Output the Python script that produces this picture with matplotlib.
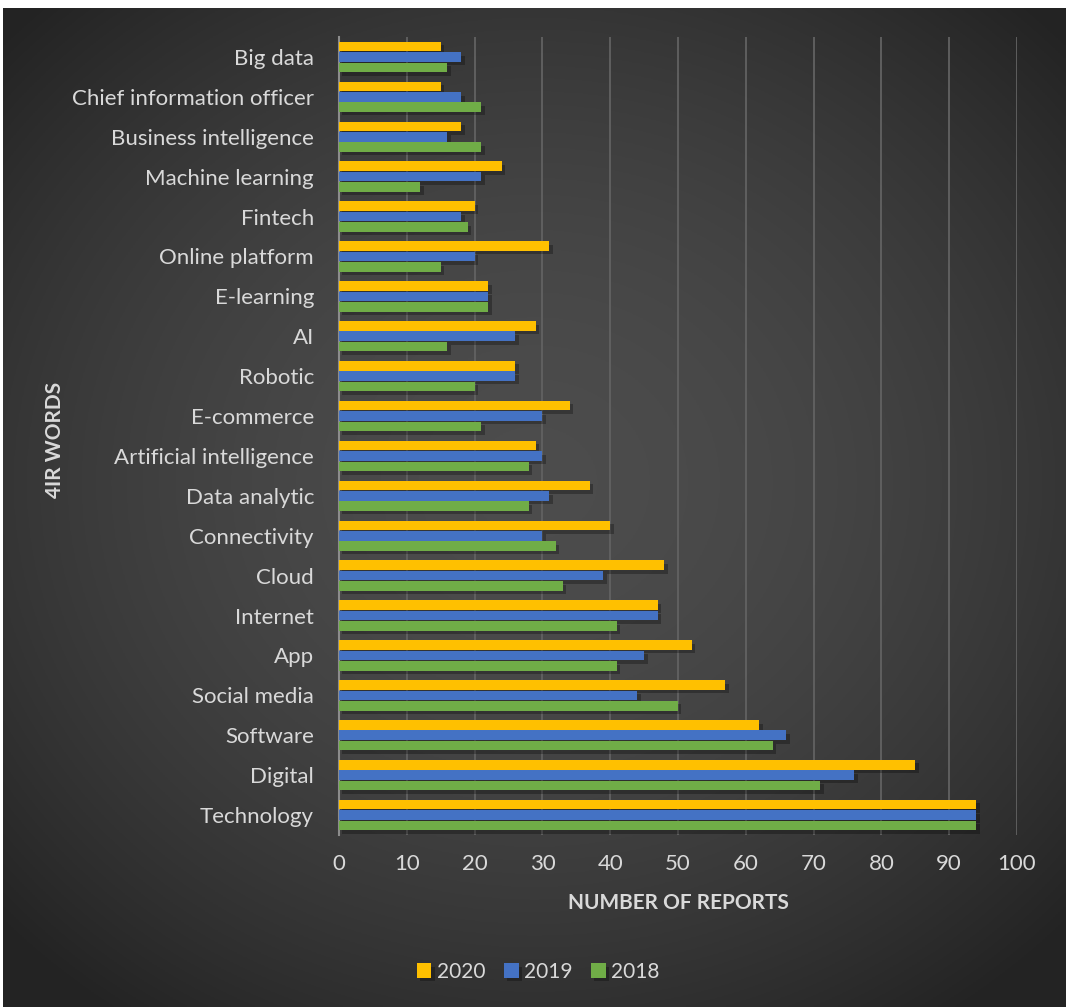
import numpy as np
import matplotlib.pyplot as plt
import matplotlib.patheffects as pe

# categories listed bottom -> top (as drawn)
words = ["Technology", "Digital", "Software", "Social media", "App", "Internet",
         "Cloud", "Connectivity", "Data analytic", "Artificial intelligence",
         "E-commerce", "Robotic", "AI", "E-learning", "Online platform",
         "Fintech", "Machine learning", "Business intelligence",
         "Chief information officer", "Big data"]
y2020 = [94, 85, 62, 57, 52, 47, 48, 40, 37, 29, 34, 26, 29, 22, 31, 20, 24, 18, 15, 15]
y2019 = [94, 76, 66, 44, 45, 47, 39, 30, 31, 30, 30, 26, 26, 22, 20, 18, 21, 16, 18, 18]
y2018 = [94, 71, 64, 50, 41, 41, 33, 32, 28, 28, 21, 20, 16, 22, 15, 19, 12, 21, 21, 16]

W, H = 1066, 1007
fig = plt.figure(figsize=(W / 100, H / 100), dpi=100, facecolor="white")
plt.rcParams["font.family"] = ["Lato", "DejaVu Sans"]

# dark radial background panel
bg = fig.add_axes([3 / W, 0, 1063 / W, 999 / H], zorder=-1)
gx, gy = np.meshgrid(np.linspace(-1, 1, 400), np.linspace(-1, 1, 400))
r = np.sqrt((gx * 0.95) ** 2 + (gy + 0.05) ** 2)
shade = np.clip(0.30 - 0.10 * r ** 1.8, 0.14, 0.30)
bg.imshow(np.dstack([shade] * 3), extent=[0, 1, 0, 1], aspect="auto")
bg.axis("off")

ax = fig.add_axes([339 / W, 1 - 835 / H, 678 / W, 798 / H])
ax.set_facecolor("none")

pos = np.arange(len(words))
h = 0.24
shadow = [pe.SimplePatchShadow(offset=(2.5, -2.5), shadow_rgbFace="black", alpha=0.28), pe.Normal()]
b1 = ax.barh(pos + 0.26, y2020, height=h, color="#FFC000", label="2020", zorder=3)
b2 = ax.barh(pos, y2019, height=h, color="#4472C4", label="2019", zorder=3)
b3 = ax.barh(pos - 0.26, y2018, height=h, color="#70AD47", label="2018", zorder=3)
for bars in (b1, b2, b3):
    for p in bars:
        p.set_path_effects(shadow)

ax.set_xlim(0, 100)
ax.set_ylim(-0.5, len(words) - 0.5)
ax.set_xticks(range(0, 101, 10))
ax.set_yticks(pos)
ax.set_yticklabels(words)
ax.grid(axis="x", color="#626262", linewidth=1.3, zorder=0)
ax.tick_params(axis="both", length=0, labelsize=16, colors="#d9d9d9")
ax.tick_params(axis="x", pad=14)
ax.tick_params(axis="y", pad=18)
for s in ["top", "right", "bottom"]:
    ax.spines[s].set_visible(False)
ax.spines["left"].set_color("#8c8c8c")
ax.spines["left"].set_linewidth(1.5)

fig.text(678 / W, 1 - 903 / H, "NUMBER OF REPORTS", ha="center", va="center",
         fontsize=15, fontweight="bold", color="#d9d9d9")
fig.text(55 / W, 1 - 440 / H, "4IR WORDS", ha="center", va="center", rotation=90,
         fontsize=15, fontweight="bold", color="#d9d9d9")

leg = fig.legend(handles=[b1, b2, b3], loc="center", bbox_to_anchor=(538 / W, 1 - 972 / H),
                 ncol=3, frameon=False, fontsize=15, handlelength=0.7, handleheight=0.7,
                 handletextpad=0.25, columnspacing=0.9, labelcolor="#d9d9d9")

fig.savefig("out.png", dpi=100, facecolor="white")
